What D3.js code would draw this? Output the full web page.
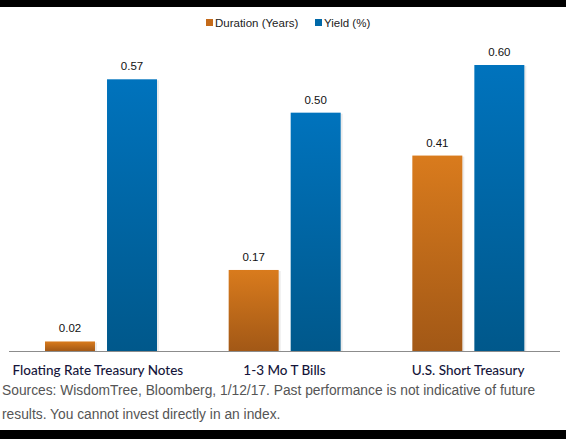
<html>
<head>
<script src="https://d3js.org/d3.v7.min.js"></script>
<style>
  body { margin: 0; background: #fff; }
</style>
</head>
<body>
<script>
var categories = ["Floating Rate Treasury Notes", "1-3 Mo T Bills", "U.S. Short Treasury"]
var duration = [0.02, 0.17, 0.41]
var yieldPct = [0.57, 0.50, 0.60]
var seriesNames = ["Duration (Years)", "Yield (%)"]
var footnote = ["Sources: WisdomTree, Bloomberg, 1/12/17. Past performance is not indicative of future",
                "results. You cannot invest directly in an index."]

var W = 566, H = 439
var svg = d3.select("body").append("svg")
  .attr("width", W)
  .attr("height", H)

var defs = svg.append("defs")
function grad(id, top, bottom) {
  var g = defs.append("linearGradient").attr("id", id)
    .attr("x1", 0).attr("y1", 0).attr("x2", 0).attr("y2", 1)
  g.append("stop").attr("offset", "0%").attr("stop-color", top)
  g.append("stop").attr("offset", "100%").attr("stop-color", bottom)
}
grad("gOrange", "#d97b1d", "#a25816")
grad("gBlue", "#0073bd", "#00588b")
var fills = ["url(#gOrange)", "url(#gBlue)"]
var swatch = ["#c46a1a", "#0068a8"]

// black bands top and bottom
svg.append("rect").attr("x", 0).attr("y", 0).attr("width", W).attr("height", 7).attr("fill", "#000")
svg.append("rect").attr("x", 0).attr("y", 430).attr("width", W).attr("height", 9).attr("fill", "#000")

var data = categories.map(function(c, i) {
  return {cat: c, vals: [duration[i], yieldPct[i]]}
})

var x0 = d3.scaleBand().domain(categories).range([9, 560])
var x1 = d3.scaleBand().domain([0, 1]).range([36, 148]).paddingInner(0.194)
var y = d3.scaleLinear().domain([0, 0.6]).range([351, 65])

var groups = svg.append("g").selectAll("g")
  .data(data)
  .enter().append("g")
  .attr("transform", function(d) { return "translate(" + x0(d.cat) + ",0)" })

var bars = groups.selectAll("g.bar")
  .data(function(d) { return d.vals.map(function(v, k) { return {k: k, v: v} }) })
  .enter().append("g").attr("class", "bar")

// faint shadow on right side
bars.append("rect")
  .attr("x", function(d) { return x1(d.k) + 2 })
  .attr("y", function(d) { return y(d.v) + 1 })
  .attr("width", x1.bandwidth())
  .attr("height", function(d) { return y(0) - y(d.v) - 1 })
  .attr("fill", "#000").attr("opacity", 0.08)

bars.append("rect")
  .attr("x", function(d) { return x1(d.k) })
  .attr("y", function(d) { return y(d.v) })
  .attr("width", x1.bandwidth())
  .attr("height", function(d) { return y(0) - y(d.v) })
  .attr("fill", function(d) { return fills[d.k] })

bars.append("text")
  .attr("x", function(d) { return x1(d.k) + x1.bandwidth() / 2 })
  .attr("y", function(d) { return y(d.v) - 9 })
  .attr("text-anchor", "middle")
  .attr("font-family", "Liberation Sans, Arial, sans-serif")
  .attr("font-size", 11.5)
  .attr("fill", "#111")
  .text(function(d) { return d3.format(".2f")(d.v) })

// axis line
svg.append("line")
  .attr("x1", 9).attr("x2", 560)
  .attr("y1", y(0) + 0.5).attr("y2", y(0) + 0.5)
  .attr("stroke", "#8c8c8c").attr("stroke-width", 1)

// category labels
svg.append("g").selectAll("text")
  .data(categories)
  .enter().append("text")
  .attr("x", function(d, i) { return x0(d) + x0.bandwidth() / 2 - (i == 0 ? 3 : 0) })
  .attr("y", 375)
  .attr("text-anchor", "middle")
  .attr("font-family", "Lato, sans-serif")
  .attr("font-size", 13.5)
  .attr("font-weight", 500)
  .attr("fill", "#15153a")
  .text(function(d) { return d })

// legend
var legX = [206, 315]
var leg = svg.append("g").selectAll("g")
  .data(seriesNames)
  .enter().append("g")
  .attr("transform", function(d, i) { return "translate(" + legX[i] + ",0)" })
leg.append("rect").attr("x", 0).attr("y", 19).attr("width", 7).attr("height", 7)
  .attr("fill", function(d, i) { return swatch[i] })
leg.append("text").attr("x", 9).attr("y", 27)
  .attr("font-family", "Liberation Sans, Arial, sans-serif")
  .attr("font-size", 11.5)
  .attr("fill", "#222")
  .text(function(d) { return d })

// footnote
svg.append("g").selectAll("text")
  .data(footnote)
  .enter().append("text")
  .attr("x", 2)
  .attr("y", function(d, i) { return 395 + i * 24 })
  .attr("font-family", "Liberation Sans, Arial, sans-serif")
  .attr("font-size", 13.8)
  .attr("fill", "#555")
  .text(function(d) { return d })
</script>
</body>
</html>
